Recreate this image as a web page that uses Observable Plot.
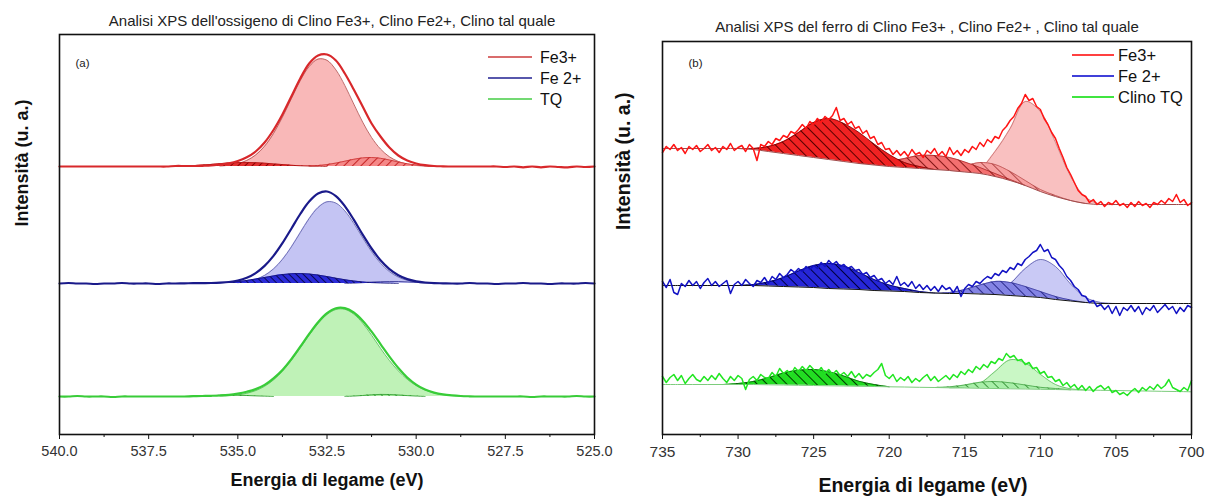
<!DOCTYPE html>
<html><head><meta charset="utf-8">
<script src="https://cdn.jsdelivr.net/npm/d3@7"></script>
<script src="https://cdn.jsdelivr.net/npm/@observablehq/plot@0.6"></script>
<style>
html,body{margin:0;padding:0;background:#fff;}
#wrap{position:relative;width:1207px;height:496px;overflow:hidden;}
#wrap svg{position:absolute;top:0;}
</style></head><body><div id="wrap"></div>
<script>
// ---------------- DATA ----------------
const titleA = "Analisi XPS dell'ossigeno di Clino Fe3+, Clino Fe2+, Clino tal quale";
const titleB = "Analisi XPS del ferro di Clino Fe3+ , Clino Fe2+ , Clino tal quale";
const xLabel = "Energia di legame (eV)";
const yLabel = "Intensità (u. a.)";
const seriesA = ["Fe3+", "Fe 2+", "TQ"];
const seriesB = ["Fe3+", "Fe 2+", "Clino TQ"];
const ticksA = [540, 537.5, 535, 532.5, 530, 527.5, 525];
const minorTicksA = [538.75, 536.25, 533.75, 531.25, 528.75, 526.25];
const ticksB = [735, 730, 725, 720, 715, 710, 705, 700];
const minorTicksB = [732.5, 727.5, 722.5, 717.5, 712.5, 707.5, 702.5];
// vertical offsets of the stacked spectra (u.a.)
const offsetsA = [268, 151, 38];
const offsetsB = [230, 127, 46];

// Panel (a) O 1s raw spectra, 540 -> 525 eV every 0.25 eV
const rawA_Fe3 = [0,0,0,0, 0,0,0,0, 0,0,0,0, 0,0.5,0.5,0.5, 0.7,1,2,3.2, 5.5,9.3,15,24, 36.5,52,70,88, 103,111,112,106, 93,77,60,43, 30,19,11,6, 3,1.3,0.5,0.2, 0,0,0,0, 0,0,-0.5,0, -0.8,0,-0.8,0, -0.5,-0.8,0,-0.5, 0];
const rawA_Fe2 = [0,0.5,0,0, -0.5,0,0,0.5, 0,0,0,-0.5, 0,0,0.2,0.3, 0.4,0.5,0.8,1.5, 2.9,5.7,10.4,17.6, 27.6,40.3,54.8,69.5, 81.9,89.9,92,87.4, 77.4,63.8,48.9,35, 23.2,14.4,8.3,4.4, 2.2,1,0.4,0.2, 0,0,0.5,0, 0,-0.5,0,0, 0.5,0,0,-0.5, 0,0,0,0.5, 0];
const rawA_TQ = [0,0,0.5,0, 0,0,-0.5,0, 0,0,0,0, 0,0,0,0.3, 0.5,0.7,1,1.6, 2.9,4.8,7.4,11.6, 18.2,26.6,37.4,49.8, 62.6,74.3,83.3,88.3, 88.4,84,75.8,64.8, 52.4,39.9,28.5,19, 11.9,6.9,3.9,2.1, 1.1,0.5,0.2,0, 0,0,0,0, 0,-0.5,0,0, 0,0,0.5,0, 0];

// Panel (a) fitted components (start energy, values every 0.25 eV)
const compA_Fe3_main = {from: 535.5, values: [0.4,1.3,2.9,6,11.5,20.3,33,49.3,67.8,85.9,100,107.4,106.2,96.6,81,62.5,44.4,29,17.5,9.7,5,2.3,1,0.4,0]};
const compA_Fe3_high = {from: 533, values: [0.3,0.9,1.9,3.4,5.3,7.2,8.6,9,8.2,6.5,4.5,2.7,1.4,0.7,0.3,0]};
const compA_Fe3_low = {from: 536.5, values: [0.4,0.8,1.4,2.1,2.8,3.5,3.9,4,3.8,3.3,2.6,1.9,1.2,0.7,0.4,0.2,0]};
const compA_Fe2_main = {from: 535, values: [0.8,1.9,4.1,8.1,14.6,24.1,36.6,50.9,65,76,81.7,80.4,72.6,60.1,45.6,31.8,20.3,11.9,6.4,3.2,1.4,0.6,0]};
const compA_Fe2_high = {from: 536, values: [0.2,0.3,0.6,1.1,1.9,3,4.4,6,7.6,8.9,9.8,10,9.5,8.4,6.9,5.3,3.8,2.5,1.6,0.9,0.5,0.2,0]};
const compA_Fe2_low = {from: 532, values: [0,0.3,0.8,1.4,1.8,2,2,1.6,1.1,0.6,0.3,0]};
const compA_TQ_main = {from: 535.5, values: [0.4,0.8,1.6,3.2,5.9,10.2,16.6,25.2,36,48.5,61.3,73,82,87,87.2,82.4,73.4,61.3,48.2,36,25.6,17.2,10.9,6.5,3.6,1.9,1,0.4,0]};
const compA_TQ_high = {from: 536.5, values: [0,0.3,0.6,1,1.3,1.4,1.3,1,0.6,0.3,0]};
const compA_TQ_low = {from: 532, values: [0,0.4,1,1.7,2.1,2,1.5,0.9,0.4,0]};

// Panel (b) Fe 2p raw spectra, 735 -> 700 eV every 0.25 eV
const rawB_Fe3 = [52,58,55,60, 54,57,51,58, 55,59,53,56, 60,54,57,52, 58,55,61,54, 57,59,53,60, 56,44,60,58, 63,60,66,64, 69,67,73,71, 75,80,76,83, 80,86,82,88, 85,89,97,84, 86,80,83,76, 78,71,74,66, 68,60,62,55, 56,50,54,49, 53,48,55,50, 52,47,54,51, 56,49,53,48, 57,50,54,49, 55,52,58,55, 62,58,65,62, 68,66,74,78, 84,88,96,101, 110,104,106,98, 95,86,80,72, 66,56,47,37, 30,22,14,10, 8,2,5,0, 3,-2,2,0, 4,-1,1,-3, 2,-2,3,-1, 1,-3,2,0, 4,1,6,3, 10,2,5,-1, 2];
const rawB_Fe2 = [26,20,28,15, 13,24,21,27, 22,26,19,25, 29,22,26,21, 24,27,14,23, 26,22,28,24, 21,27,25,30, 24,31,28,34, 30,33,38,35, 39,36,41,38, 42,39,45,41, 47,43,46,41, 43,39,41,37, 38,33,35,30, 32,27,29,24, 27,23,31,22, 25,21,26,19, 23,18,22,17, 21,16,22,18, 20,15,21,11, 19,23,21,26, 24,28,31,29, 34,32,37,35, 40,38,44,42, 48,51,55,57, 63,56,58,50, 48,42,38,31, 27,21,18,12, 11,5,7,1, 3,-2,2,-6, 1,-8,0,-3, 2,-4,1,-7, 0,-3,2,-5, -1,3,-2,1, -6,0,-4,2, 0];
const rawB_TQ = [12,6,11,14, 8,13,5,10, 14,9,7,12, 8,13,9,15, 10,6,12,8, 13,10,-1,9, 12,8,14,11, 10,16,12,20, 15,18,14,21, 17,22,18,23, 19,16,21,15, 19,14,18,13, 16,12,17,11, 15,10,14,12, 16,19,25,13, 10,14,7,11, 8,12,6,10, 7,11,14,8, 12,7,10,13, 9,14,11,17, 14,19,16,22, 19,24,21,27, 25,30,28,35, 31,33,28,29, 24,26,20,21, 15,17,11,12, 7,9,3,6, 1,4,-1,3, -2,2,-3,1, 3,-1,2,-4, -2,-6,-4,-7, -3,0,-4,1, -2,2,-1,4, 0,3,9,1, -1,-3,1,-2, 8];

// Panel (b) backgrounds, 735 -> 700 eV every 1 eV
const bgB_Fe3 = [56,56,56,56,56,56,55,53,51,49,47,45,43,41,39.5,38,37,36,35,34,32.5,31,28,24,19,13,8,4,1,0,0,0,0,0,0,0];
const bgB_Fe2 = [22,22,22,22,22,22,22,21.5,21,20.5,20,19,18.5,18,17,16.5,16,15,14.5,14,14,13.5,13,12,11,10,8,6.5,5,4,4,4,4,4,4,4];
const bgB_TQ = [4,4,4,4,4,4,4,3.7,3.5,3.2,3,2.7,2.5,2.2,2,1.7,1.5,1.2,1,0.7,0.5,0.2,0,-0.3,-0.5,-0.8,-1,-1.3,-1.5,-1.8,-2,-2.3,-2.5,-2.8,-3,-3.3];

// Panel (b) fitted components above background (start energy, values every 1 eV)
const compB_Fe3_1 = {from: 730, values: [0,1,5,12,23,35,41,38,31,21,12,5,2,0]};
const compB_Fe3_2 = {from: 722, values: [0,2,5,9,13,14,13,10,6,3,1,0]};
const compB_Fe3_3 = {from: 717, values: [0,2,6,11,12,9,5,2,1,0,0]};
const compB_Fe3_4 = {from: 716, values: [0,1,5,25,52,84,80,54,24,6,0]};
const compB_Fe2_1 = {from: 730, values: [0,1,4,9,16,22,25,23,17,11,6,3,1,0]};
const compB_Fe2_2 = {from: 717, values: [0,1,4,9,13,13,10,6,3,1,0]};
const compB_Fe2_3 = {from: 714, values: [0,3,12,28,38,33,17,5,1,0]};
const compB_TQ_1 = {from: 731, values: [0,1,3,7,12,15,16,14,10,5,2,0]};
const compB_TQ_2 = {from: 717, values: [0,1,3,6,7,6,4,2,1,0]};
const compB_TQ_3 = {from: 716, values: [0,1,5,17,29,26,15,5,1,0]};

// ---------------- BUILD ----------------
const FONT = "'Liberation Sans', Arial, Helvetica, sans-serif";
const gridA = d3.range(rawA_Fe3.length).map(i => 540 - i * 0.25);
const gridB = d3.range(rawB_Fe3.length).map(i => 735 - i * 0.25);
const gridBg = d3.range(bgB_Fe3.length).map(i => 735 - i);

const rawRows = (grid, vals, off) => grid.map((E, i) => ({E, y: off + vals[i]}));
const compRowsA = (c, off) => c.values.map((h, i) => ({E: c.from - i * 0.25, lo: off, hi: off + h}));
const compRowsB = (c, bg, off) => c.values.map((h, i) => {
  const E = c.from - i; const b = bg[735 - E];
  return {E, lo: off + b, hi: off + b + h};
});
const bgRows = (bg, off) => gridBg.map((E, i) => ({E, y: off + bg[i]}));

function comp(rows, fill, stroke, sw = 0.8) {
  return [
    Plot.areaY(rows, {x: "E", y1: "lo", y2: "hi", fill, curve: "catmull-rom"}),
    Plot.line(rows, {x: "E", y: "hi", stroke, strokeWidth: sw, curve: "catmull-rom"})
  ];
}

function legend(items, {right, top, lineLen, gap, rowH, fontSize}) {
  return (index, scales, values, dims) => {
    const g = d3.create("svg:g").attr("font-family", FONT).attr("font-size", fontSize)
      .attr("fill", "#111").attr("text-anchor", "start");
    const x0 = dims.width - dims.marginRight - right;
    items.forEach((it, i) => {
      const y = dims.marginTop + top + i * rowH;
      g.append("line").attr("x1", x0 - gap - lineLen).attr("x2", x0 - gap)
        .attr("y1", y).attr("y2", y).attr("stroke", it.color).attr("stroke-width", 1.6);
      g.append("text").attr("x", x0).attr("y", y).attr("dy", "0.35em").text(it.label);
    });
    return g.node();
  };
}

function addPatterns(svg, pats) {
  const d = d3.select(svg).insert("defs", ":first-child");
  for (const p of pats) {
    const pat = d.append("pattern").attr("id", p.id).attr("patternUnits", "userSpaceOnUse")
      .attr("width", p.s).attr("height", p.s).attr("patternTransform", `rotate(${p.angle})`);
    pat.append("rect").attr("width", p.s).attr("height", p.s).attr("fill", p.bg);
    pat.append("line").attr("x1", 0.5).attr("y1", 0).attr("x2", 0.5).attr("y2", p.s)
      .attr("stroke", p.line).attr("stroke-width", p.w);
  }
}

const wrap = document.getElementById("wrap");

// ---- Panel (a)
const colA = ["#d8282b", "#1a1a8a", "#38cc38"];
const legColA = ["#cc3b3b", "#1f1f90", "#44cc44"];
const rawAll_A = [rawA_Fe3, rawA_Fe2, rawA_TQ];
const svgA = Plot.plot({
  width: 600, height: 496,
  marginLeft: 59, marginRight: 6, marginTop: 34, marginBottom: 62,
  style: {fontFamily: FONT, background: "transparent", overflow: "visible"},
  x: {domain: [540, 525]},
  y: {domain: [0, 400], axis: null},
  marks: [
    // Fe3+
    ...comp(compRowsA(compA_Fe3_main, offsetsA[0]), "#f9b8b8", "#b85a5a", 0.9),
    ...comp(compRowsA(compA_Fe3_high, offsetsA[0]), "url(#hA_r1)", "#c83030", 0.8),
    ...comp(compRowsA(compA_Fe3_low, offsetsA[0]), "url(#hA_r2)", "#b01818", 0.8),
    // Fe2+
    ...comp(compRowsA(compA_Fe2_main, offsetsA[1]), "#c4c4f3", "#6a6ab0", 0.9),
    ...comp(compRowsA(compA_Fe2_low, offsetsA[1]), "#b8b8ee", "#303090", 0.8),
    ...comp(compRowsA(compA_Fe2_high, offsetsA[1]), "url(#hA_b1)", "#15157a", 0.8),
    // TQ
    ...comp(compRowsA(compA_TQ_main, offsetsA[2]), "#bff2b7", "#5cbf5c", 0.9),
    ...comp(compRowsA(compA_TQ_high, offsetsA[2]), "url(#hA_g1)", "#2a9a2a", 0.8),
    ...comp(compRowsA(compA_TQ_low, offsetsA[2]), "url(#hA_g1)", "#2a9a2a", 0.8),
    // raw spectra
    ...rawAll_A.map((v, k) => Plot.line(rawRows(gridA, v, offsetsA[k]),
      {x: "E", y: "y", stroke: colA[k], strokeWidth: 2.2, curve: "catmull-rom"})),
    Plot.frame({stroke: "#111", strokeWidth: 1.6}),
    Plot.axisX(ticksA, {tickSize: 5, tickPadding: 6, tickFormat: d => d.toFixed(1), fontSize: 14.5, color: "#333", stroke: "#111", label: null}),
    Plot.axisX(minorTicksA, {tickSize: 3, tickFormat: () => "", stroke: "#111", label: null}),
    Plot.text([titleA], {frameAnchor: "top", lineAnchor: "middle", dy: -13, dx: 5, fontSize: 15, fill: "#222"}),
    Plot.text(["(a)"], {frameAnchor: "top-left", lineAnchor: "middle", dx: 23, dy: 29, fontSize: 11.5, fill: "#222", textAnchor: "middle"}),
    Plot.text([xLabel], {frameAnchor: "bottom", lineAnchor: "middle", dy: 46, fontSize: 18, fontWeight: "bold", fill: "#111"}),
    Plot.text([yLabel], {frameAnchor: "left", lineAnchor: "middle", dx: -37, dy: -8, rotate: -90, fontSize: 18, fontWeight: "bold", fill: "#111"}),
    legend(seriesA.map((s, k) => ({label: s, color: legColA[k]})), {right: 54, top: 23, lineLen: 44, gap: 8, rowH: 21, fontSize: 16})
  ]
});
addPatterns(svgA, [
  {id: "hA_r1", s: 6, angle: 45, bg: "#f58888", line: "#c42424", w: 1},
  {id: "hA_r2", s: 5, angle: 45, bg: "#e23030", line: "#8a0000", w: 1},
  {id: "hA_b1", s: 5, angle: -45, bg: "#2b2bd8", line: "#0a0a55", w: 1},
  {id: "hA_g1", s: 5, angle: -45, bg: "#a8eaa0", line: "#208a20", w: 0.8}
]);
svgA.style.left = "0px";
wrap.appendChild(svgA);

// ---- Panel (b)
const colB = ["#ff1414", "#1212c4", "#22e622"];
const legColB = ["#ff0000", "#0000cc", "#00dd00"];
const rawAll_B = [rawB_Fe3, rawB_Fe2, rawB_TQ];
const svgB = Plot.plot({
  width: 607, height: 496,
  marginLeft: 62, marginRight: 16, marginTop: 41, marginBottom: 62,
  style: {fontFamily: FONT, background: "transparent", overflow: "visible"},
  x: {domain: [735, 700]},
  y: {domain: [0, 393], axis: null},
  marks: [
    // Fe3+
    ...comp(compRowsB(compB_Fe3_4, bgB_Fe3, offsetsB[0]), "#f9c0c0", "#c46a6a", 0.8),
    ...comp(compRowsB(compB_Fe3_3, bgB_Fe3, offsetsB[0]), "url(#hB_r3)", "#b04040", 0.7),
    ...comp(compRowsB(compB_Fe3_2, bgB_Fe3, offsetsB[0]), "url(#hB_r2)", "#a02020", 0.7),
    ...comp(compRowsB(compB_Fe3_1, bgB_Fe3, offsetsB[0]), "url(#hB_r1)", "#7a0000", 0.8),
    Plot.line(bgRows(bgB_Fe3, offsetsB[0]), {x: "E", y: "y", stroke: "#a04848", strokeWidth: 1, curve: "catmull-rom"}),
    // Fe2+
    ...comp(compRowsB(compB_Fe2_3, bgB_Fe2, offsetsB[1]), "#c9c9f5", "#5a5aa8", 0.8),
    ...comp(compRowsB(compB_Fe2_2, bgB_Fe2, offsetsB[1]), "url(#hB_b2)", "#303090", 0.7),
    ...comp(compRowsB(compB_Fe2_1, bgB_Fe2, offsetsB[1]), "url(#hB_b1)", "#000060", 0.8),
    Plot.line(bgRows(bgB_Fe2, offsetsB[1]), {x: "E", y: "y", stroke: "#111", strokeWidth: 1, curve: "catmull-rom"}),
    // Clino TQ
    ...comp(compRowsB(compB_TQ_3, bgB_TQ, offsetsB[2]), "#c9f7c5", "#5cb85c", 0.8),
    ...comp(compRowsB(compB_TQ_2, bgB_TQ, offsetsB[2]), "url(#hB_g2)", "#3a9a3a", 0.7),
    ...comp(compRowsB(compB_TQ_1, bgB_TQ, offsetsB[2]), "url(#hB_g1)", "#0a5a0a", 0.8),
    Plot.line(bgRows(bgB_TQ, offsetsB[2]), {x: "E", y: "y", stroke: "#7ccc7c", strokeWidth: 1, curve: "catmull-rom"}),
    // raw spectra
    ...rawAll_B.map((v, k) => Plot.line(rawRows(gridB, v, offsetsB[k]),
      {x: "E", y: "y", stroke: colB[k], strokeWidth: 1.5})),
    Plot.frame({stroke: "#111", strokeWidth: 1.6}),
    Plot.axisX(ticksB, {tickSize: 5, tickPadding: 6, fontSize: 15.5, color: "#333", stroke: "#111", label: null}),
    Plot.axisX(minorTicksB, {tickSize: 3, tickFormat: () => "", stroke: "#111", label: null}),
    Plot.text([titleB], {frameAnchor: "top", lineAnchor: "middle", dy: -14, fontSize: 15, fill: "#222"}),
    Plot.text(["(b)"], {frameAnchor: "top-left", lineAnchor: "middle", dx: 33, dy: 22, fontSize: 11.5, fill: "#222", textAnchor: "middle"}),
    Plot.text([xLabel], {frameAnchor: "bottom", lineAnchor: "middle", dy: 51, dx: -4, fontSize: 19.5, fontWeight: "bold", fill: "#111"}),
    Plot.text([yLabel], {frameAnchor: "left", lineAnchor: "middle", dx: -39, dy: -8, rotate: -90, fontSize: 19.5, fontWeight: "bold", fill: "#111"}),
    legend(seriesB.map((s, k) => ({label: s, color: legColB[k]})), {right: 73, top: 14, lineLen: 42, gap: 4, rowH: 21, fontSize: 16.5})
  ]
});
addPatterns(svgB, [
  {id: "hB_r1", s: 7, angle: -45, bg: "#f02222", line: "#5a0000", w: 1},
  {id: "hB_r2", s: 7, angle: -45, bg: "#f47070", line: "#7a1010", w: 0.9},
  {id: "hB_r3", s: 7, angle: -45, bg: "#f7a0a0", line: "#a03030", w: 0.8},
  {id: "hB_b1", s: 7, angle: -45, bg: "#2626d8", line: "#000040", w: 1},
  {id: "hB_b2", s: 7, angle: -45, bg: "#8484e4", line: "#202080", w: 0.9},
  {id: "hB_g1", s: 7, angle: -45, bg: "#22dd22", line: "#003a00", w: 1},
  {id: "hB_g2", s: 7, angle: -45, bg: "#a8eea8", line: "#208020", w: 0.8}
]);
svgB.style.left = "600px";
wrap.appendChild(svgB);
</script></body></html>
